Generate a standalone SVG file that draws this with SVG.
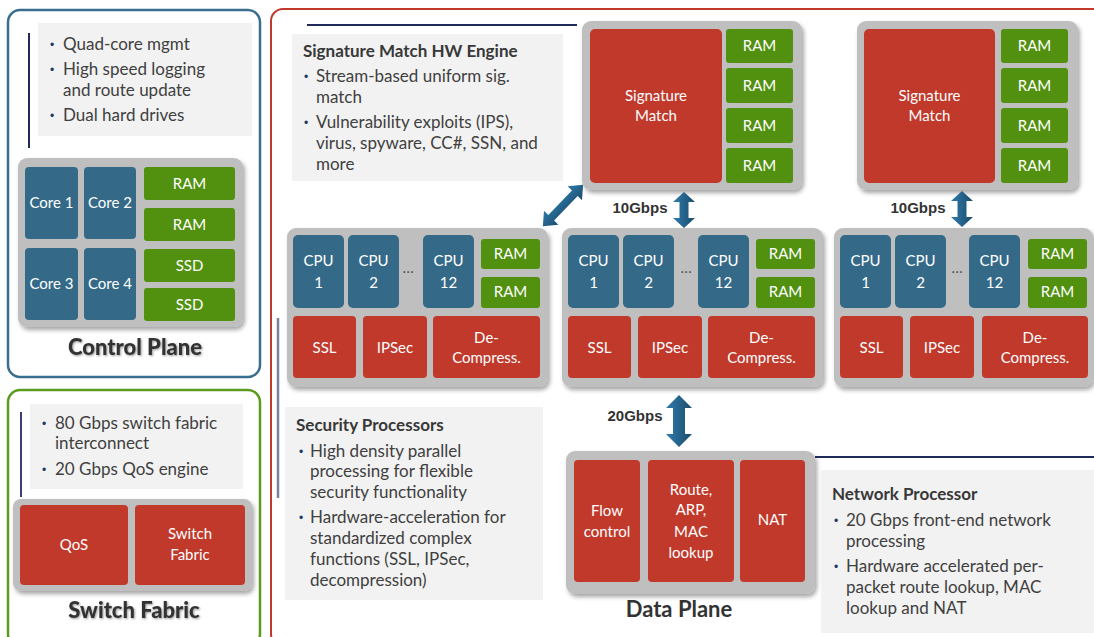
<svg xmlns="http://www.w3.org/2000/svg" width="1094" height="637" viewBox="0 0 1094 637">
<defs>
<style>
.t{font-family:Lato,"Liberation Sans",sans-serif;}
.bt{font-family:Lato,"Liberation Sans",sans-serif;font-size:17px;fill:#404040;}
.hd{font-family:Lato,"Liberation Sans",sans-serif;font-size:17px;fill:#383838;font-weight:bold;}
.bu{font-family:"Liberation Sans",sans-serif;font-size:12px;fill:#1f3864;}
.lb{font-family:Lato,"Liberation Sans",sans-serif;font-size:15px;fill:#ffffff;text-anchor:middle;}
.gb{font-family:"Liberation Sans",sans-serif;font-size:15px;font-weight:bold;fill:#333333;text-anchor:middle;}
.ttl{font-family:Lato,"Liberation Sans",sans-serif;font-size:22px;font-weight:900;fill:#333333;text-anchor:middle;}
.box{fill:#f2f2f2;}
.cont{fill:#bfbfbf;filter:url(#sh);}
.red{fill:#c0392b;}
.blue{fill:#346a88;}
.grn{fill:#52900f;}
.nav{stroke:#1f2a5a;stroke-width:2;}
.arr{fill:url(#ag);}
</style>
<filter id="sh" x="-5%" y="-5%" width="112%" height="115%">
<feDropShadow dx="2" dy="3" stdDeviation="2" flood-color="#000" flood-opacity="0.35"/>
</filter>
<filter id="ts" x="-5%" y="-10%" width="115%" height="130%">
<feDropShadow dx="1" dy="1" stdDeviation="0.8" flood-color="#000" flood-opacity="0.4"/>
</filter>
<linearGradient id="ag" x1="0" y1="0" x2="1" y2="0">
<stop offset="0" stop-color="#2f7bab"/>
<stop offset="1" stop-color="#1b4c6d"/>
</linearGradient>
<path id="a36" d="M0,-18 L11,-8 L4.5,-8 L4.5,8 L11,8 L0,18 L-11,8 L-4.5,8 L-4.5,-8 L-11,-8 Z"/>
</defs>

<!-- Control Plane -->
<g id="control-plane">
<rect x="8" y="10" width="252" height="367" rx="12" fill="#fff" stroke="#3a6e8f" stroke-width="2.5"/>
<rect class="box" x="38" y="23" width="214" height="113"/>
<line class="nav" x1="29" y1="33" x2="29" y2="148"/>
<text class="bu" x="50" y="49">•</text><text class="bt" x="63" y="50">Quad-core mgmt</text>
<text class="bu" x="50" y="74">•</text><text class="bt" x="63" y="75">High speed logging</text>
<text class="bt" x="63" y="96">and route update</text>
<text class="bu" x="50" y="120">•</text><text class="bt" x="63" y="121">Dual hard drives</text>
<rect class="cont" x="18" y="158" width="225" height="169" rx="9"/>
<rect class="blue" x="25" y="167" width="53" height="72" rx="4"/>
<rect class="blue" x="84" y="167" width="52" height="72" rx="4"/>
<rect class="blue" x="25" y="248" width="53" height="72" rx="4"/>
<rect class="blue" x="84" y="248" width="52" height="72" rx="4"/>
<rect class="grn" x="144" y="167" width="91" height="33" rx="3"/>
<rect class="grn" x="144" y="208" width="91" height="33" rx="3"/>
<rect class="grn" x="144" y="249" width="91" height="33" rx="3"/>
<rect class="grn" x="144" y="288" width="91" height="33" rx="3"/>
<text class="lb" x="51.5" y="208">Core 1</text>
<text class="lb" x="110" y="208">Core 2</text>
<text class="lb" x="51.5" y="289">Core 3</text>
<text class="lb" x="110" y="289">Core 4</text>
<text class="lb" x="189.5" y="189">RAM</text>
<text class="lb" x="189.5" y="230">RAM</text>
<text class="lb" x="189.5" y="271">SSD</text>
<text class="lb" x="189.5" y="310">SSD</text>
<text class="ttl" x="135" y="355" filter="url(#ts)">Control Plane</text>
</g>

<!-- Switch Fabric -->
<g id="switch-fabric">
<rect x="8" y="390" width="252" height="256" rx="12" fill="#fff" stroke="#5b9b1f" stroke-width="2.5"/>
<rect class="box" x="30" y="404" width="213" height="85"/>
<line x1="21" y1="412" x2="21" y2="497" stroke="#3a3f6e" stroke-width="2"/>
<text class="bu" x="42" y="428">•</text><text class="bt" x="55" y="429">80 Gbps switch fabric</text>
<text class="bt" x="55" y="449">interconnect</text>
<text class="bu" x="42" y="474">•</text><text class="bt" x="55" y="475">20 Gbps QoS engine</text>
<rect class="cont" x="13" y="499" width="239" height="92" rx="8"/>
<rect class="red" x="20" y="505" width="108" height="80" rx="4"/>
<rect class="red" x="135" y="505" width="110" height="80" rx="4"/>
<text class="lb" x="74" y="550">QoS</text>
<text class="lb" x="190" y="539">Switch</text>
<text class="lb" x="190" y="560">Fabric</text>
<text class="ttl" x="134" y="618" filter="url(#ts)">Switch Fabric</text>
</g>

<!-- Data plane frame -->
<g id="data-plane-frame">
<rect x="271" y="9" width="840" height="637" rx="12" fill="#fff" stroke="#c0392b" stroke-width="2"/>
<line x1="278" y1="318" x2="278" y2="498" stroke="#7a7fa0" stroke-width="2.5"/>
<text x="679" y="617" font-family="Lato, 'Liberation Sans', sans-serif" font-size="22" font-weight="bold" fill="#333" text-anchor="middle">Data Plane</text>
</g>

<!-- Signature Match HW Engine description -->
<g id="sig-desc">
<line class="nav" x1="307" y1="25" x2="577" y2="25"/>
<rect class="box" x="292" y="34" width="271" height="147"/>
<text class="hd" x="303" y="57">Signature Match HW Engine</text>
<text class="bu" x="304" y="81">•</text><text class="bt" x="316" y="82">Stream-based uniform sig.</text>
<text class="bt" x="316" y="103">match</text>
<text class="bu" x="304" y="127">•</text><text class="bt" x="316" y="128">Vulnerability exploits (IPS),</text>
<text class="bt" x="316" y="149">virus, spyware, CC#, SSN, and</text>
<text class="bt" x="316" y="170">more</text>
</g>

<!-- Signature Match engines -->
<g id="sig-match-1">
<rect class="cont" x="582" y="21" width="220" height="169" rx="9"/>
<rect class="red" x="590" y="29" width="132" height="154" rx="5"/>
<rect class="grn" x="726" y="29" width="67" height="34" rx="3"/>
<rect class="grn" x="726" y="68" width="67" height="35" rx="3"/>
<rect class="grn" x="726" y="108" width="67" height="35" rx="3"/>
<rect class="grn" x="726" y="148" width="67" height="35" rx="3"/>
<text class="lb" x="656" y="101">Signature</text>
<text class="lb" x="656" y="121">Match</text>
<text class="lb" x="759.5" y="51">RAM</text>
<text class="lb" x="759.5" y="91">RAM</text>
<text class="lb" x="759.5" y="131">RAM</text>
<text class="lb" x="759.5" y="171">RAM</text>
</g>
<g id="sig-match-2">
<rect class="cont" x="857" y="21" width="221" height="169" rx="9"/>
<rect class="red" x="864" y="29" width="131" height="154" rx="5"/>
<rect class="grn" x="1001" y="29" width="67" height="34" rx="3"/>
<rect class="grn" x="1001" y="68" width="67" height="35" rx="3"/>
<rect class="grn" x="1001" y="108" width="67" height="35" rx="3"/>
<rect class="grn" x="1001" y="148" width="67" height="35" rx="3"/>
<text class="lb" x="929.5" y="101">Signature</text>
<text class="lb" x="929.5" y="121">Match</text>
<text class="lb" x="1034.5" y="51">RAM</text>
<text class="lb" x="1034.5" y="91">RAM</text>
<text class="lb" x="1034.5" y="131">RAM</text>
<text class="lb" x="1034.5" y="171">RAM</text>
</g>

<!-- Security processor blocks -->
<g id="sec-proc-1" transform="translate(287,228)">
<rect class="cont" x="0" y="0" width="261" height="159" rx="9"/>
<rect class="blue" x="6" y="7" width="51" height="73" rx="5"/>
<rect class="blue" x="61" y="7" width="51" height="73" rx="5"/>
<rect class="blue" x="136" y="7" width="51" height="73" rx="5"/>
<rect class="grn" x="194" y="11" width="59" height="30" rx="3"/>
<rect class="grn" x="194" y="49" width="59" height="31" rx="3"/>
<rect class="red" x="6" y="88" width="63" height="62" rx="4"/>
<rect class="red" x="76" y="88" width="64" height="62" rx="4"/>
<rect class="red" x="146" y="88" width="107" height="62" rx="4"/>
<text class="lb" x="31.5" y="38">CPU</text><text class="lb" x="31.5" y="60">1</text>
<text class="lb" x="86.5" y="38">CPU</text><text class="lb" x="86.5" y="60">2</text>
<text class="lb" x="161.5" y="38">CPU</text><text class="lb" x="161.5" y="60">12</text>
<text x="121" y="45" font-family="Lato, sans-serif" font-size="15" fill="#555" text-anchor="middle">…</text>
<text class="lb" x="223.5" y="31">RAM</text>
<text class="lb" x="223.5" y="69">RAM</text>
<text class="lb" x="37.5" y="125">SSL</text>
<text class="lb" x="108" y="125">IPSec</text>
<text class="lb" x="199.5" y="115">De-</text>
<text class="lb" x="199.5" y="135">Compress.</text>
</g>
<g id="sec-proc-2" transform="translate(562,228)">
<rect class="cont" x="0" y="0" width="261" height="159" rx="9"/>
<rect class="blue" x="6" y="7" width="51" height="73" rx="5"/>
<rect class="blue" x="61" y="7" width="51" height="73" rx="5"/>
<rect class="blue" x="136" y="7" width="51" height="73" rx="5"/>
<rect class="grn" x="194" y="11" width="59" height="30" rx="3"/>
<rect class="grn" x="194" y="49" width="59" height="31" rx="3"/>
<rect class="red" x="6" y="88" width="63" height="62" rx="4"/>
<rect class="red" x="76" y="88" width="64" height="62" rx="4"/>
<rect class="red" x="146" y="88" width="107" height="62" rx="4"/>
<text class="lb" x="31.5" y="38">CPU</text><text class="lb" x="31.5" y="60">1</text>
<text class="lb" x="86.5" y="38">CPU</text><text class="lb" x="86.5" y="60">2</text>
<text class="lb" x="161.5" y="38">CPU</text><text class="lb" x="161.5" y="60">12</text>
<text x="124" y="45" font-family="Lato, sans-serif" font-size="15" fill="#555" text-anchor="middle">…</text>
<text class="lb" x="223.5" y="31">RAM</text>
<text class="lb" x="223.5" y="69">RAM</text>
<text class="lb" x="37.5" y="125">SSL</text>
<text class="lb" x="108" y="125">IPSec</text>
<text class="lb" x="199.5" y="115">De-</text>
<text class="lb" x="199.5" y="135">Compress.</text>
</g>
<g id="sec-proc-3" transform="translate(834,228)">
<rect class="cont" x="0" y="0" width="259" height="159" rx="9"/>
<rect class="blue" x="6" y="7" width="51" height="73" rx="5"/>
<rect class="blue" x="61" y="7" width="51" height="73" rx="5"/>
<rect class="blue" x="135" y="7" width="51" height="73" rx="5"/>
<rect class="grn" x="194" y="11" width="59" height="30" rx="3"/>
<rect class="grn" x="194" y="49" width="59" height="31" rx="3"/>
<rect class="red" x="6" y="88" width="63" height="62" rx="4"/>
<rect class="red" x="76" y="88" width="64" height="62" rx="4"/>
<rect class="red" x="148" y="88" width="106" height="62" rx="4"/>
<text class="lb" x="31.5" y="38">CPU</text><text class="lb" x="31.5" y="60">1</text>
<text class="lb" x="86.5" y="38">CPU</text><text class="lb" x="86.5" y="60">2</text>
<text class="lb" x="160.5" y="38">CPU</text><text class="lb" x="160.5" y="60">12</text>
<text x="123" y="45" font-family="Lato, sans-serif" font-size="15" fill="#555" text-anchor="middle">…</text>
<text class="lb" x="223.5" y="31">RAM</text>
<text class="lb" x="223.5" y="69">RAM</text>
<text class="lb" x="37.5" y="125">SSL</text>
<text class="lb" x="108" y="125">IPSec</text>
<text class="lb" x="201" y="115">De-</text>
<text class="lb" x="201" y="135">Compress.</text>
</g>

<!-- Security Processors description -->
<g id="sec-desc">
<rect class="box" x="285" y="407" width="258" height="193"/>
<text class="hd" x="296" y="431">Security Processors</text>
<text class="bu" x="299" y="456">•</text><text class="bt" x="310" y="457">High density parallel</text>
<text class="bt" x="310" y="477">processing for flexible</text>
<text class="bt" x="310" y="498">security functionality</text>
<text class="bu" x="299" y="522">•</text><text class="bt" x="310" y="523">Hardware-acceleration for</text>
<text class="bt" x="310" y="544">standardized complex</text>
<text class="bt" x="310" y="565">functions (SSL, IPSec,</text>
<text class="bt" x="310" y="586">decompression)</text>
</g>

<!-- Network Processor -->
<g id="network-processor">
<rect class="cont" x="566" y="451" width="249" height="143" rx="9"/>
<rect class="red" x="574" y="460" width="66" height="122" rx="4"/>
<rect class="red" x="648" y="460" width="86" height="122" rx="4"/>
<rect class="red" x="740" y="460" width="65" height="122" rx="4"/>
<text class="lb" x="607" y="516">Flow</text>
<text class="lb" x="607" y="537">control</text>
<text class="lb" x="691" y="495">Route,</text>
<text class="lb" x="691" y="515">ARP,</text>
<text class="lb" x="691" y="537">MAC</text>
<text class="lb" x="691" y="558">lookup</text>
<text class="lb" x="772.5" y="525">NAT</text>
</g>
<g id="np-desc">
<line class="nav" x1="815" y1="457" x2="1094" y2="457"/>
<rect class="box" x="821" y="470" width="280" height="163"/>
<text class="hd" x="832" y="500">Network Processor</text>
<text class="bu" x="834" y="525">•</text><text class="bt" x="846" y="526">20 Gbps front-end network</text>
<text class="bt" x="846" y="547">processing</text>
<text class="bu" x="834" y="571">•</text><text class="bt" x="846" y="572">Hardware accelerated per-</text>
<text class="bt" x="846" y="593">packet route lookup, MAC</text>
<text class="bt" x="846" y="614">lookup and NAT</text>
</g>

<!-- Connectors -->
<g id="connectors">
<use href="#a36" class="arr" transform="translate(684,210)"/>
<use href="#a36" class="arr" transform="translate(962,209)"/>
<path class="arr" transform="translate(679,421)" d="M0,-26 L13,-13 L6,-13 L6,13 L13,13 L0,26 L-13,13 L-6,13 L-6,-13 L-13,-13 Z"/>
<path class="arr" transform="translate(563,205.5) rotate(44)" d="M0,-29 L10,-17 L4,-17 L4,17 L10,17 L0,29 L-10,17 L-4,17 L-4,-17 L-10,-17 Z"/>
<text class="gb" x="640" y="213">10Gbps</text>
<text class="gb" x="918" y="213">10Gbps</text>
<text class="gb" x="635" y="421">20Gbps</text>
</g>
</svg>
